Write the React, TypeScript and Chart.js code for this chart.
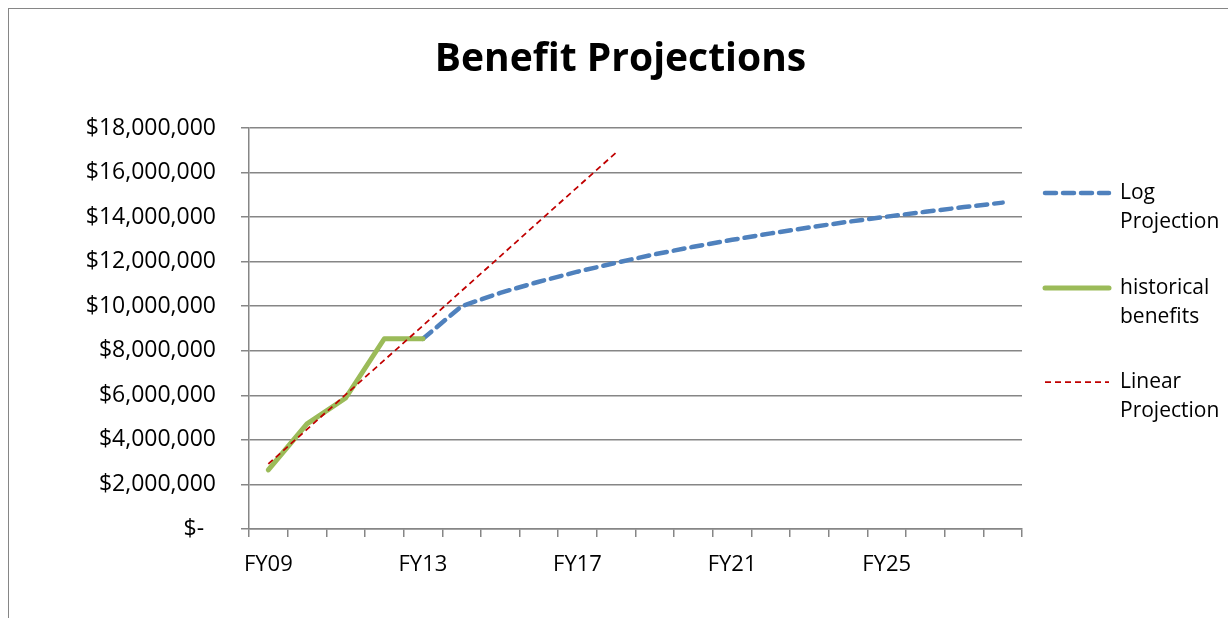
import React, { useEffect, useRef } from "react";
import { Chart, registerables } from "chart.js";

Chart.register(...registerables);

const categories = [
  "FY09", "FY10", "FY11", "FY12", "FY13", "FY14", "FY15", "FY16", "FY17", "FY18",
  "FY19", "FY20", "FY21", "FY22", "FY23", "FY24", "FY25", "FY26", "FY27", "FY28",
];

// FY09–FY13
const historicalBenefits = [2650000, 4720000, 5880000, 8540000, 8540000];
// FY13–FY28
const logProjection = [
  8540000, 10000000, 10600000, 11100000, 11550000, 11950000, 12330000, 12670000,
  12980000, 13270000, 13540000, 13790000, 14020000, 14240000, 14450000, 14650000,
];
// FY09–FY18
const linearProjection = [
  2920000, 4470000, 6030000, 7580000, 9130000, 10690000, 12240000, 13800000, 15350000, 16900000,
];

const yTicks = [0, 2000000, 4000000, 6000000, 8000000, 10000000, 12000000, 14000000, 16000000, 18000000];

const TITLE = "Benefit Projections";
const FONT = "'Open Sans', Lato, sans-serif";

function place(values: number[], start: number): (number | null)[] {
  return categories.map((_, i) => {
    const k = i - start;
    return k >= 0 && k < values.length ? values[k] : null;
  });
}

const titleLegendPlugin = {
  id: "titleAndWrappedLegend",
  afterDraw(chart: any) {
    const ctx = chart.ctx;
    ctx.save();
    // title, centred on the whole chart
    ctx.fillStyle = "#000";
    ctx.font = `bold 39px ${FONT}`;
    ctx.textAlign = "center";
    ctx.textBaseline = "alphabetic";
    ctx.fillText(TITLE, chart.width / 2 + 2, 62);

    // legend with wrapped labels
    const ys = [184, 279, 373];
    chart.data.datasets.forEach((ds: any, i: number) => {
      const y = ys[i];
      ctx.beginPath();
      ctx.strokeStyle = ds.borderColor;
      ctx.lineWidth = ds.borderWidth;
      ctx.lineCap = ds.borderCapStyle || "butt";
      ctx.setLineDash(ds.borderDash || []);
      ctx.moveTo(1036, y);
      ctx.lineTo(1100, y);
      ctx.stroke();
      ctx.setLineDash([]);
      ctx.fillStyle = "#000";
      ctx.font = `21px ${FONT}`;
      ctx.textAlign = "left";
      ctx.textBaseline = "middle";
      String(ds.label)
        .split(" ")
        .forEach((line: string, j: number) => {
          ctx.fillText(line, 1111, y + j * 29);
        });
    });
    ctx.restore();
  },
};

export default function App() {
  const ref = useRef<HTMLCanvasElement>(null);

  useEffect(() => {
    if (!ref.current) return;
    const chart = new Chart(ref.current, {
      type: "line",
      data: {
        labels: categories,
        datasets: [
          {
            label: "Log Projection",
            data: place(logProjection, 4),
            borderColor: "#4F81BD",
            borderWidth: 4.5,
            borderDash: [11, 7],
            borderCapStyle: "round",
            pointRadius: 0,
            tension: 0,
            order: 2,
          },
          {
            label: "historical benefits",
            data: place(historicalBenefits, 0),
            borderColor: "#9BBB59",
            borderWidth: 5,
            borderCapStyle: "round",
            borderJoinStyle: "round",
            pointRadius: 0,
            tension: 0,
            order: 1,
          },
          {
            label: "Linear Projection",
            data: place(linearProjection, 0),
            borderColor: "#C00000",
            borderWidth: 1.75,
            borderDash: [6, 4],
            pointRadius: 0,
            tension: 0,
            order: 0,
          },
        ],
      },
      options: {
        responsive: false,
        animation: false,
        layout: { padding: { left: 0, right: 206, top: 119, bottom: 41 } },
        plugins: {
          legend: { display: false },
          tooltip: { enabled: false },
          title: { display: false },
        },
        scales: {
          x: {
            type: "category",
            offset: true,
            grid: {
              offset: true,
              drawOnChartArea: false,
              drawTicks: true,
              tickLength: 8,
              color: "#868686",
              lineWidth: 1.5,
            },
            border: { display: true, color: "#868686", width: 1.5 },
            ticks: {
              autoSkip: false,
              maxRotation: 0,
              color: "#000",
              font: { family: FONT, size: 22 },
              padding: 15,
              callback: (_v: any, i: number) => (i % 4 === 0 ? categories[i] : ""),
            },
            afterFit: (s: any) => {
              s.height = 48;
            },
          },
          y: {
            min: 0,
            max: 18000000,
            afterBuildTicks: (s: any) => {
              s.ticks = yTicks.map((v) => ({ value: v }));
            },
            grid: {
              color: "#868686",
              lineWidth: 1.5,
              tickLength: 8,
              drawTicks: true,
            },
            border: { display: true, color: "#868686", width: 1.5 },
            ticks: {
              color: "#000",
              font: { family: FONT, size: 23 },
              padding: 25,
              callback: (v: any) =>
                Number(v) === 0 ? "$-  " : "$" + Number(v).toLocaleString("en-US"),
            },
            afterFit: (s: any) => {
              s.width = 240;
            },
          },
        },
      },
      plugins: [titleLegendPlugin],
    } as any);
    return () => chart.destroy();
  }, []);

  return (
    <div
      style={{
        position: "fixed",
        left: 8,
        top: 8,
        width: 1220,
        height: 610,
        boxSizing: "border-box",
        borderTop: "1px solid #868686",
        borderLeft: "1px solid #868686",
        background: "#fff",
      }}
    >
      <canvas
        ref={ref}
        width={1219}
        height={609}
        style={{ position: "absolute", left: 0, top: 0, width: 1219, height: 609 }}
      />
    </div>
  );
}
